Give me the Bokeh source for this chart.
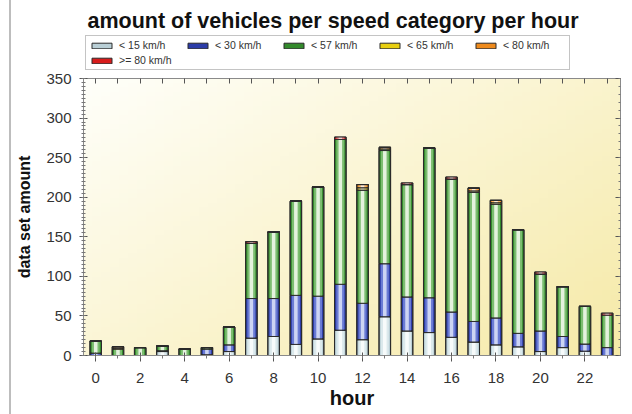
import numpy as np
from bokeh.plotting import figure
from bokeh.layouts import column
from bokeh.models import (Range1d, SingleIntervalTicker, LinearAxis, Legend, LegendItem,
                          ColumnDataSource, Label, CustomJSTickFormatter)
from bokeh.embed import file_html
from bokeh.resources import INLINE

# ---- data ----
hours = list(range(24))
lt15 = [0, 0, 0, 5, 0, 1, 5, 22, 24, 14, 21, 32, 20, 49, 31, 29, 23, 17, 13.5, 11, 5, 10, 5.5, 0]
lt30 = [3, 0, 0, 1, 0, 7, 8.5, 50, 48, 62, 54, 58, 46, 67, 43, 44, 32, 26, 34, 17, 26, 14, 9, 10]
lt57 = [15, 8, 10, 6, 8, 2, 22.5, 70, 84, 119, 138, 183, 143, 143, 142, 189, 168, 163, 143.5, 131, 72, 63, 47.5, 41]
lt65 = [0, 1, 0, 0, 0, 0, 0, 0, 0, 0, 0, 0, 3, 2, 0, 0, 0, 2, 2, 0, 0, 0, 0, 0]
lt80 = [0, 2, 0, 0, 0, 0, 0, 0, 0, 0, 0, 0, 4, 2, 0, 0, 0, 3.5, 3, 0, 0, 0, 0, 0]
ge80 = [0, 0, 0, 0, 0, 0, 0, 2, 0, 0, 0, 3, 0, 0, 2, 0, 2.5, 0, 0, 0, 2.5, 0, 0, 2.5]
series_names = ["< 15 km/h", "< 30 km/h", "< 57 km/h", "< 65 km/h", "< 80 km/h", ">= 80 km/h"]
series_values = [lt15, lt30, lt57, lt65, lt80, ge80]
title_text = "amount of vehicles per speed category per hour"

# ---- styles ----
edge_colors = ["#b9cfd6", "#2c3ca8", "#338a2c", "#e8cf10", "#ee8a1c", "#d81c1c"]
mid_colors = ["#dbe9ec", "#6a7bd4", "#7cbd70", "#f5e46a", "#f6b76a", "#ec7a7a"]
light_colors = ["#f7fbfb", "#ccd4f3", "#e4f2de", "#fdf8d8", "#fde8d2", "#fbdcdc"]
FONT = "Liberation Sans"
W = 621
TOP_H = 71

# ---------- header figure: title + legend ----------
ph = figure(width=W, height=TOP_H, output_backend="svg", toolbar_location=None,
            x_range=Range1d(0, 1), y_range=Range1d(0, 1),
            x_axis_location=None, y_axis_location=None,
            min_border_left=72, min_border_right=12, min_border_top=0, min_border_bottom=0,
            background_fill_color="white", border_fill_color="white")
ph.grid.visible = False
ph.outline_line_color = None
proxy = ColumnDataSource(dict(x=[float("nan")], bottom=[0.0], top=[0.0]))
items = []
for name, ec in zip(series_names, edge_colors):
    r = ph.vbar(x="x", bottom="bottom", top="top", width=0.5, source=proxy,
                fill_color=ec, line_color="#2b2b2b", line_width=1)
    items.append(LegendItem(label=name, renderers=[r]))
legend = Legend(items=items, location=(2, 1), orientation="horizontal", ncols=5,
                glyph_width=25, glyph_height=7, label_standoff=5, label_width=63, label_height=10,
                spacing=3, padding=3, margin=0,
                label_text_font=FONT, label_text_font_size="10.5px", label_text_color="#333333",
                border_line_color="#8a8a8a", border_line_width=1,
                background_fill_color="white", background_fill_alpha=1)
ph.add_layout(legend, "center")
ph.add_layout(Label(x=4, y=TOP_H - 20, x_units="screen", y_units="screen", text=title_text,
                    text_font=FONT, text_font_size="21.5px", text_font_style="bold",
                    text_color="#111111", text_baseline="middle"))

# ---------- main chart ----------
p = figure(width=W, height=414 - TOP_H, output_backend="svg", toolbar_location=None,
           x_range=Range1d(-0.55, 23.6), y_range=Range1d(0, 350),
           min_border_left=72, min_border_right=12, min_border_top=7, min_border_bottom=59,
           background_fill_color="white", border_fill_color="white")
p.grid.visible = False
p.outline_line_color = None

# gradient background of the plot area
ny, nx = 60, 60
yy, xx = np.mgrid[0:ny, 0:nx]
t = 0.55 * xx / (nx - 1) + 0.45 * (1 - yy / (ny - 1))
c0 = np.array([255, 255, 250])
c1 = np.array([246, 234, 168])
rgb = (c0[None, None, :] * (1 - t[..., None]) + c1[None, None, :] * t[..., None]).astype(np.uint32)
img = (255 << 24) | (rgb[..., 2] << 16) | (rgb[..., 1] << 8) | rgb[..., 0]
p.image_rgba(image=[img.astype(np.uint32)], x=-0.55, y=0, dw=24.15, dh=350)

# stacked bars
bottom = np.zeros(len(hours))
for name, vals, ec, mc, lc in zip(series_names, series_values, edge_colors, mid_colors, light_colors):
    v = np.array(vals, dtype=float)
    src = ColumnDataSource(dict(x=hours, bottom=bottom.copy(), top=bottom + v))
    p.vbar(x="x", bottom="bottom", top="top", width=0.52, source=src,
           fill_color=ec, line_color="#2b2b2b", line_width=1)
    p.vbar(x="x", bottom="bottom", top="top", width=0.36, source=src, fill_color=mc, line_color=None)
    p.vbar(x="x", bottom="bottom", top="top", width=0.16, source=src, fill_color=lc, line_color=None)
    p.vbar(x="x", bottom="bottom", top="top", width=0.52, source=src,
           fill_color=None, line_color="#2b2b2b", line_width=1)
    bottom = bottom + v

# axes
xa = p.xaxis[0]
xa.ticker = SingleIntervalTicker(interval=2, num_minor_ticks=2)
xa.axis_label = "hour"
ya = p.yaxis[0]
ya.ticker = SingleIntervalTicker(interval=50, num_minor_ticks=10)
ya.axis_label = "data set amount"
for ax in (xa, ya):
    ax.axis_line_color = "#8a8a8a"
    ax.major_tick_line_color = "#555555"
    ax.minor_tick_line_color = "#777777"
    ax.major_label_text_font = FONT
    ax.major_label_text_font_size = "15px"
    ax.major_label_text_color = "#333333"
    ax.axis_label_text_font = FONT
    ax.axis_label_text_font_style = "bold"
    ax.axis_label_text_color = "#111111"
xa.major_tick_in = 3
xa.major_tick_out = 6
xa.minor_tick_in = 0
xa.minor_tick_out = 3
xa.major_label_standoff = 11
xa.axis_label_standoff = 1
xa.axis_label_text_font_size = "20px"
ya.major_tick_in = 4
ya.major_tick_out = 4
ya.minor_tick_in = 2
ya.minor_tick_out = 2
ya.major_label_standoff = 8
ya.axis_label_standoff = 10
ya.axis_label_text_font_size = "16px"

blank = CustomJSTickFormatter(code="return ''")
top_ax = LinearAxis(ticker=SingleIntervalTicker(interval=1, num_minor_ticks=0), formatter=blank,
                    major_label_standoff=0, major_tick_in=5, major_tick_out=0,
                    minor_tick_in=0, minor_tick_out=0,
                    axis_line_color="#8a8a8a", major_tick_line_color="#555555")
p.add_layout(top_ax, "above")
right_ax = LinearAxis(ticker=SingleIntervalTicker(interval=50, num_minor_ticks=5), formatter=blank,
                      major_label_standoff=0, major_tick_in=5, major_tick_out=0,
                      minor_tick_in=2, minor_tick_out=0,
                      axis_line_color="#8a8a8a", major_tick_line_color="#555555",
                      minor_tick_line_color="#777777")
p.add_layout(right_ax, "right")

layout = column(ph, p, spacing=0,
                styles={"margin-left": "9px", "border-left": "2px solid #bdbdbd"})

open("out.html", "w").write(file_html(layout, INLINE))
